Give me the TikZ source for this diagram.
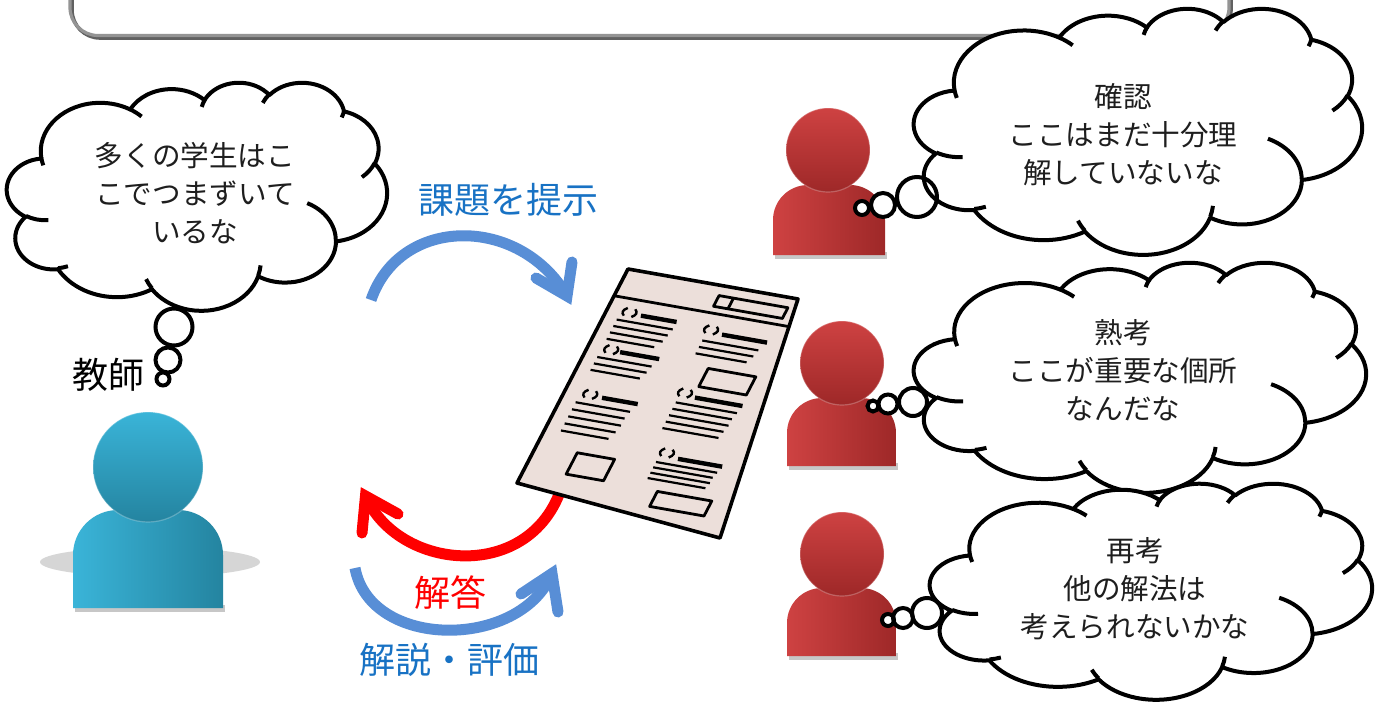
\documentclass[tikz,border=0pt]{standalone}
\usepackage{fontspec}
\setmainfont{Noto Sans CJK JP}
\usetikzlibrary{calc}

\definecolor{arrowblue}{RGB}{88,142,214}
\definecolor{textblue}{RGB}{24,114,196}
\definecolor{paperfill}{RGB}{236,223,218}
\definecolor{tealL}{RGB}{58,180,216}
\definecolor{tealD}{RGB}{36,132,160}
\definecolor{redL}{RGB}{206,66,66}
\definecolor{redD}{RGB}{158,40,40}
\definecolor{cloudtext}{RGB}{30,30,30}

% elliptical arc given by radii, start angle and sweep (visual angles)
\newcommand{\ooarc}[4]{arc[x radius=#1,y radius=#2,start angle={atan2(#1*sin(#3),#2*cos(#3))},delta angle={mod(atan2(#1*sin(#3+#4),#2*cos(#3+#4))-atan2(#1*sin(#3),#2*cos(#3))+720,360)}]}

% thought cloud in a 100 x 100 box: origin, x unit, y unit
\newcommand{\thoughtcloud}[4]{%
\begin{scope}[shift={(#1,#2)},x=#3,y=#4]
\filldraw[cloudline,fill=white] (9.028,33.264)
 \ooarc{15.632}{21.273}{-190.4875}{123.7805}
 \ooarc{12.345}{16.822}{-144.1024}{89.9452}
 \ooarc{10.104}{13.762}{-145.8079}{99.7230}
 \ooarc{11.243}{15.266}{-130.9861}{117.2417}
 \ooarc{12.345}{16.836}{-78.7089}{109.0269}
 \ooarc{15.683}{21.343}{-46.2673}{130.2690}
 \ooarc{13.391}{18.211}{0.6250}{114.0333}
 \ooarc{15.630}{21.331}{22.4516}{115.1726}
 \ooarc{17.870}{24.405}{66.2426}{75.7110}
 \ooarc{10.093}{13.699}{-274.9421}{146.7356}
 \ooarc{10.058}{13.762}{-246.8285}{152.5189}
 -- cycle;
\draw[cloudline]
 (10.863,60.595) \ooarc{10.058}{13.762}{86.7420}{26.4295}
 (16.037,80.785) \ooarc{10.093}{13.699}{73.6105}{11.4475}
 (38.144,90.486) \ooarc{15.630}{21.331}{137.6242}{14.0811}
 (66.729,80.442) \ooarc{15.630}{21.331}{6.4533}{15.9984}
 (79.002,53.134) \ooarc{13.391}{18.211}{-70.2924}{70.9174}
 (96.755,35.542) \ooarc{12.345}{16.836}{30.3180}{27.7515}
 (88.713,12.560) \ooarc{11.243}{15.266}{13.7443}{14.8589}
 (67.310,9.148) \ooarc{11.243}{15.266}{-149.1815}{18.1954}
 (51.252,10.926) \ooarc{10.104}{13.762}{-163.4943}{17.6864}
 (32.407,12.019) \ooarc{15.632}{21.273}{-66.7070}{12.3194}
 (9.553,36.549) \ooarc{15.632}{21.273}{157.6544}{11.8582};
\end{scope}}

% person icon: head x, y, r, body x0, y0, x1, y1, shoulder radius, colour prefix
\newcommand{\personicon}[9]{%
 \fill[black,opacity=.22] ({#4+2},{#7-3}) rectangle ({#6+2},{#7+4});
 \shade[left color=#9L,right color=#9D] (#4,#7) -- (#4,{#5+#8})
   arc[start angle=180,end angle=270,radius=#8] -- ({#6-#8},#5)
   arc[start angle=270,end angle=360,radius=#8] -- (#6,#7) -- cycle;
 \shade[top color=#9L,bottom color=#9D] (#1,#2) circle[radius=#3];
 \draw[white,opacity=.25,line width=.6pt] (#1,#2) circle[radius=#3];
}

% worksheet details in local coordinates
\newcommand{\pbx}[4]{\draw[pbox] (#1,#2) -- (#3,#2) -- (#3,#4) -- (#1,#4) -- cycle;}
\newcommand{\prn}[2]{%
 \draw[pparen] ({#1-0.022},{#2-0.018}) .. controls ({#1-0.045},{#2-0.006}) and ({#1-0.045},{#2+0.006}) .. ({#1-0.022},{#2+0.018});
 \draw[pparen] ({#1+0.022},{#2-0.018}) .. controls ({#1+0.045},{#2-0.006}) and ({#1+0.045},{#2+0.006}) .. ({#1+0.022},{#2+0.018});}

\begin{document}
\begin{tikzpicture}[x=0.5pt,y=-0.5pt,
  cloudline/.style={draw=black,line width=2pt,line join=round},
  bubble/.style={draw=black,line width=2pt},
  cloudtxt/.style={text=cloudtext,align=center,font=\fontsize{14.3pt}{19pt}\selectfont},
  bigtxt/.style={font=\fontsize{18pt}{22pt}\selectfont},
  flowarc/.style={line width=5.5pt},
  barb/.style={line width=5.5pt,line join=miter,line cap=round},
  pthin/.style={line width=1.1pt},
  pthick/.style={line width=2.2pt},
  pbox/.style={line width=1.4pt,line join=round},
  pparen/.style={line width=1.2pt}]
\useasboundingbox (0,0) rectangle (1381,702);
\clip (0,0) rectangle (1381,702);
\fill[white] (0,0) rectangle (1381,702);

% frame at the top
\draw[line width=1.8pt,draw=black!62,rounded corners=14pt] (72,-40) rectangle (1231,38);
\draw[line width=1.6pt,draw=black!42,rounded corners=14pt] (70,-40) rectangle (1229,35.5);

% teacher
\fill[black!16] (150,562) ellipse[x radius=110,y radius=15];
\personicon{148}{467}{55}{73}{510}{223}{608}{45}{teal}
\node[bigtxt] (teacherlabel) at (108,375) {教師};

% teacher's thought
\thoughtcloud{7}{82}{1.9pt}{-1.14pt}
\node[cloudtxt] (teacherthought) at (195,193) {多くの学生はこ\\こでつまずいて\\いるな};
\draw[bubble,fill=white] (174,327) circle[radius=18.5];
\draw[bubble,fill=white] (168,360) circle[radius=12.5];
\draw[bubble,fill=white] (163,379) circle[radius=6.5];

% students
\personicon{828}{150}{42}{773}{185}{885}{255}{35}{red}
\personicon{842}{363}{42}{787}{398}{896}{466}{35}{red}
\personicon{842}{554}{42}{787}{588}{896}{656}{35}{red}

% bubbles behind the clouds
\foreach \bx/\by/\br in {917/197/20, 883/205/12, 862/208/7,
                         913/402/14, 888/404/9.5, 873/406/5.5,
                         927/613/15, 903/618/10, 888/620/6}
  \fill[white] (\bx,\by) circle[radius=\br];

\thoughtcloud{914}{8}{2.24pt}{-1.23pt}
\thoughtcloud{914}{262}{2.26pt}{-1.15pt}
\thoughtcloud{930}{483}{2.21pt}{-1.08pt}

\foreach \bx/\by/\br in {917/197/20, 883/205/12, 862/208/7,
                         913/402/14, 888/404/9.5, 873/406/5.5,
                         927/613/15, 903/618/10, 888/620/6}
  \draw[bubble] (\bx,\by) circle[radius=\br];

\node[cloudtxt] (confirm) at (1123,135) {確認\\ここはまだ十分理\\解していないな};
\node[cloudtxt] (ponder) at (1123,370) {熟考\\ここが重要な個所\\なんだな};
\node[cloudtxt] (rethink) at (1135,589) {再考\\他の解法は\\考えられないかな};

% cycle of arrows between teacher and worksheet
\coordinate (taskstart) at (371,300);
\coordinate (tasktip) at (567,296);
\coordinate (taskbarbA) at (536,278);
\coordinate (taskbarbB) at (572,262);
\draw[flowarc,arrowblue] (taskstart) .. controls (400,215) and (520,215) .. (tasktip);
\draw[barb,arrowblue] (taskbarbA) -- (tasktip) -- (taskbarbB);
\node[bigtxt,text=textblue] (tasklabel) at (508,200) {課題を提示};

\coordinate (answerstart) at (566,470);
\coordinate (answertip) at (365.5,496);
\coordinate (answerbarbA) at (362,533);
\coordinate (answerbarbB) at (398,514);
\draw[flowarc,red] (answerstart) .. controls (545,585) and (400,575) .. (answertip);
\draw[barb,red] (answerbarbA) -- (answertip) -- (answerbarbB);
\node[bigtxt,text=red] (answerlabel) at (450,593) {解答};

\coordinate (reviewstart) at (355,568);
\coordinate (reviewtip) at (552,573.5);
\coordinate (reviewbarbA) at (521,594);
\coordinate (reviewbarbB) at (558,612);
\draw[flowarc,arrowblue] (reviewstart) .. controls (370,650) and (520,650) .. (reviewtip);
\draw[barb,arrowblue] (reviewbarbA) -- (reviewtip) -- (reviewbarbB);
\node[bigtxt,text=textblue] (reviewlabel) at (449,660) {解説・評価};

% worksheet
\coordinate (pTL) at (628,269);
\coordinate (pTR) at (798,299);
\coordinate (pBR) at (720,538);
\coordinate (pBL) at (517,483);
\fill[paperfill] (pTL) -- (pTR) -- (pBR) -- (pBL) -- cycle;
\begin{scope}
\clip (pTL) -- (pTR) -- (pBR) -- (pBL) -- cycle;
\begin{scope}[shift={(628,269)},x={(85pt,-15pt)},y={(-55.5pt,-107pt)}]
 \draw[pbox] (-0.1,0.125) -- (1.3,0.125);
 \pbx{0.565}{0.045}{0.97}{0.095}
 \draw[pbox] (0.65,0.045) -- (0.65,0.095);
 % left column
 \prn{0.13}{0.185}
 \draw[pthick] (0.20,0.19) -- (0.41,0.19);
 \foreach \t/\e in {0.225/0.41,0.255/0.40,0.285/0.39,0.315/0.36}
   \draw[pthin] (0.08,\t) -- (\e,\t);
 \prn{0.135}{0.358}
 \draw[pthick] (0.19,0.362) -- (0.42,0.362);
 \foreach \t/\e in {0.40/0.40,0.43/0.39,0.46/0.37}
   \draw[pthin] (0.08,\t) -- (\e,\t);
 \prn{0.147}{0.565}
 \draw[pthick] (0.22,0.571) -- (0.43,0.571);
 \foreach \t/\e in {0.61/0.41,0.643/0.40,0.676/0.40,0.709/0.39,0.742/0.37}
   \draw[pthin] (0.09,\t) -- (\e,\t);
 \pbx{0.24}{0.825}{0.46}{0.925}
 % right column
 \prn{0.618}{0.198}
 \draw[pthick] (0.69,0.21) -- (0.955,0.21);
 \foreach \t/\e in {0.25/0.93,0.28/0.92,0.31/0.90}
   \draw[pthin] (0.60,\t) -- (\e,\t);
 \pbx{0.71}{0.365}{0.99}{0.45}
 \prn{0.654}{0.488}
 \draw[pthick] (0.72,0.50) -- (1.0,0.50);
 \foreach \t/\e in {0.535/0.99,0.565/0.98,0.595/0.98,0.625/0.97,0.655/0.96}
   \draw[pthin] (0.63,\t) -- (\e,\t);
 \prn{0.724}{0.758}
 \draw[pthick] (0.80,0.775) -- (1.06,0.775);
 \foreach \t/\e in {0.805/1.05,0.83/1.04,0.855/1.04,0.88/1.03}
   \draw[pthin] (0.69,\t) -- (\e,\t);
 \pbx{0.78}{0.93}{1.1}{1.0}
\end{scope}
\end{scope}
\draw[line width=1.8pt,line join=round] (pTL) -- (pTR) -- (pBR) -- (pBL) -- cycle;

\end{tikzpicture}
\end{document}
